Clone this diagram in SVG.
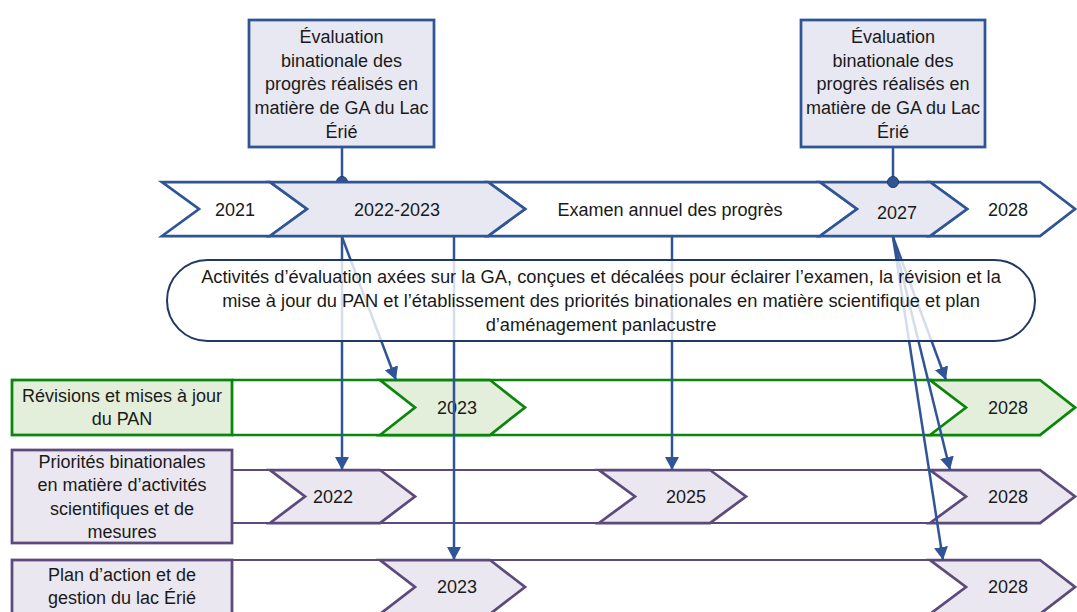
<svg xmlns="http://www.w3.org/2000/svg" width="1077" height="612" viewBox="0 0 1077 612">
<style>
text{font-family:"Liberation Sans",Arial,sans-serif;font-size:18px;fill:#1a1a1a;text-anchor:middle}
.big{font-size:18.3px}
.bx{fill:#E8E8F3;stroke:#2F5597;stroke-width:2.75}
.tw{fill:#FFFFFF;stroke:#2F5597;stroke-width:2.75;stroke-linejoin:miter}
.tl{fill:#E8E8F3;stroke:#2F5597;stroke-width:2.75}
.gb{fill:#E3EFDA;stroke:#0A870A;stroke-width:2.75}
.gl{stroke:#0A870A;stroke-width:2.5;fill:none}
.pb{fill:#EAE7F0;stroke:#5C4A7C;stroke-width:2.75}
.pl{stroke:#5C4A7C;stroke-width:2;fill:none}
.cn{stroke:#2F5597;stroke-width:2.5;fill:none}
.ar{stroke:#2F5597;stroke-width:2.5;fill:none;marker-end:url(#ah)}
</style>
<defs>
<marker id="ah" markerUnits="userSpaceOnUse" markerWidth="14" markerHeight="14" refX="13" refY="7" orient="auto">
<path d="M0,0 L13,7 L0,14 z" fill="#2F5597"/>
</marker>
</defs>

<g id="box-left">
<line class="cn" x1="342" y1="147" x2="342" y2="182"/>
<circle cx="342" cy="182" r="5.5" fill="#2F5597" stroke="#1F3864" stroke-width="1"/>
<rect class="bx" x="249" y="20" width="185" height="127"/>
<text x="341.5" y="43">Évaluation</text>
<text x="341.5" y="67">binationale des</text>
<text x="341.5" y="90">progrès réalisés en</text>
<text x="341.5" y="114">matière de GA du Lac</text>
<text x="341.5" y="138">Érié</text>
</g>

<g id="box-right">
<line class="cn" x1="893" y1="147" x2="893" y2="182"/>
<rect class="bx" x="801" y="20" width="184" height="127"/>
<text x="893" y="43">Évaluation</text>
<text x="893" y="67">binationale des</text>
<text x="893" y="90">progrès réalisés en</text>
<text x="893" y="114">matière de GA du Lac</text>
<text x="893" y="138">Érié</text>
</g>

<g id="row-pan">
<line class="gl" x1="232" y1="380" x2="932" y2="380"/>
<line class="gl" x1="232" y1="435" x2="932" y2="435"/>
<rect class="gb" x="12" y="380" width="220" height="55"/>
<text x="122" y="402">Révisions et mises à jour</text>
<text x="122" y="425">du PAN</text>
<g id="pan2023"><polygon class="gb" points="380,380 490,380 525,407.5 490,435 380,435 415,407.5"/><text x="457" y="414">2023</text></g>
<g id="pan2028"><polygon class="gb" points="930,380 1040,380 1075,407.5 1040,435 930,435 966,407.5"/><text x="1008" y="414">2028</text></g>
</g>

<g id="row-priorites">
<line class="pl" x1="232" y1="470" x2="932" y2="470"/>
<line class="pl" x1="232" y1="523" x2="932" y2="523"/>
<rect class="pb" x="12" y="450" width="220" height="93"/>
<text x="122" y="468">Priorités binationales</text>
<text x="122" y="491">en matière d’activités</text>
<text x="122" y="515">scientifiques et de</text>
<text x="122" y="538">mesures</text>
<g id="pri2022"><polygon class="pb" points="270,470 380,470 415,496.5 380,523 270,523 305,496.5"/><text x="333" y="503">2022</text></g>
<g id="pri2025"><polygon class="pb" points="599,470 710,470 746,496.5 710,523 599,523 635,496.5"/><text x="686" y="503">2025</text></g>
<g id="pri2028"><polygon class="pb" points="930,470 1040,470 1075,496.5 1040,523 930,523 966,496.5"/><text x="1008" y="503">2028</text></g>
</g>

<g id="row-plan">
<line class="pl" x1="232" y1="560" x2="932" y2="560"/>
<rect class="pb" x="12" y="560" width="220" height="60"/>
<text x="122" y="581">Plan d’action et de</text>
<text x="122" y="604">gestion du lac Érié</text>
<g id="plan2023"><polygon class="pb" points="380,560 490,560 525,587 490,614 380,614 415,587"/><text x="457" y="593">2023</text></g>
<g id="plan2028"><polygon class="pb" points="930,560 1040,560 1075,587 1040,614 930,614 966,587"/><text x="1008" y="593">2028</text></g>
</g>

<g id="connectors">
<line class="ar" x1="342" y1="237" x2="342" y2="470"/>
<line class="ar" x1="342" y1="237" x2="396" y2="380"/>
<line class="ar" x1="454" y1="237" x2="454" y2="560"/>
<line class="ar" x1="672" y1="237" x2="672" y2="470"/>
<line class="ar" x1="893" y1="237" x2="946" y2="380"/>
<line class="ar" x1="893" y1="237" x2="950" y2="470"/>
<line class="ar" x1="893" y1="237" x2="943" y2="560"/>
</g>

<g id="timeline">
<g id="t2021"><polygon class="tw" points="162,182 270,182 307,209 270,236 162,236 199,209"/><text x="235" y="215.5">2021</text></g>
<g id="t-examen"><polygon class="tw" points="488,182 820,182 857,209 820,236 488,236 525,209"/><text x="670" y="216">Examen annuel des progrès</text></g>
<g id="t2028"><polygon class="tw" points="930,182 1040,182 1075,209 1040,236 930,236 967,209"/><text x="1008" y="216">2028</text></g>
<g id="t2022-2023"><polygon class="tl" points="270,182 488,182 525,209 488,236 270,236 307,209"/><text x="397" y="216">2022-2023</text></g>
<g id="t2027"><polygon class="tl" points="820,182 930,182 967,209 930,236 820,236 857,209"/><text x="897" y="219">2027</text></g>
<circle cx="893" cy="182" r="5.5" fill="#2F5597" stroke="#1F3864" stroke-width="1"/>
</g>

<g id="activities">
<rect x="167" y="260" width="868" height="81" rx="40.5" ry="40.5" fill="#FFFFFF" fill-opacity="0.8" stroke="#1F3864" stroke-width="2"/>
<text class="big" x="601" y="283">Activités d’évaluation axées sur la GA, conçues et décalées pour éclairer l’examen, la révision et la</text>
<text class="big" x="601" y="307">mise à jour du PAN et l’établissement des priorités binationales en matière scientifique et plan</text>
<text class="big" x="601" y="331">d’aménagement panlacustre</text>
</g>
</svg>
